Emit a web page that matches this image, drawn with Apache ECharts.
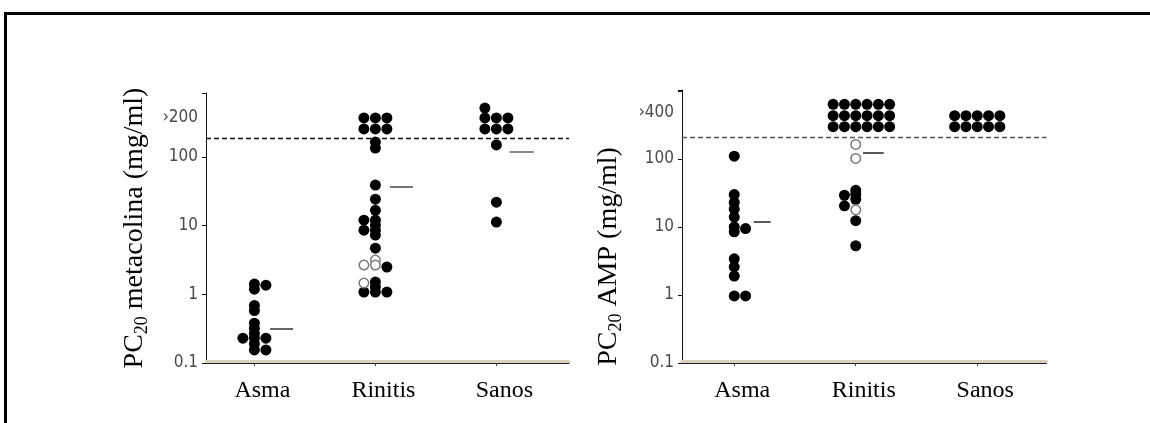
<!DOCTYPE html>
<html>
<head>
<meta charset="utf-8">
<script src="https://cdn.jsdelivr.net/npm/echarts@6/dist/echarts.min.js"></script>
<style>
  html, body { margin: 0; padding: 0; background: #fff; overflow: hidden; }
  #chart { position: absolute; left: 0; top: 0; width: 1150px; height: 423px; }
  #frame { position: absolute; left: 4px; top: 12px; width: 1146px; height: 411px; box-sizing: border-box;
           border-top: 3px solid #000; border-left: 3px solid #000; pointer-events: none; }
</style>
</head>
<body>
<div id="chart"></div>
<div id="frame"></div>
<script>
// ---- data -------------------------------------------------------------
const categories = ['Asma', 'Rinitis', 'Sanos'];

// Each group is a list of dot columns, slots -2 .. +3 around the group centre.
// PC20 metacolina (mg/ml), filled dots
const metaAsma    = [[], [0.23], [1.41, 1.19, 0.69, 0.58, 0.38, 0.32, 0.27, 0.23, 0.19, 0.155], [1.36, 0.23, 0.155], [], []];
const metaRinitis = [[], [370, 256, 12, 8.6, 1.08],
                     [370, 256, 165, 135, 39, 24.3, 16.7, 12.0, 10.2, 8.6, 7.3, 4.7, 1.51, 1.28, 1.08],
                     [370, 256, 2.5, 1.08], [], []];
const metaSanos   = [[], [516, 370, 256], [370, 256, 150, 22, 11.3], [370, 256], [], []];
// PC20 metacolina, open circles
const metaAsmaOpen    = [[], [], [], [], [], []];
const metaRinitisOpen = [[], [2.67, 1.46], [3.16, 2.67], [], [], []];
const metaSanosOpen   = [[], [], [], [], [], []];
const metaMeans = [0.32, 36.5, 118];
const metaCut = 185;

// PC20 AMP (mg/ml), filled dots
const ampAsma    = [[], [], [110, 30, 23, 18.3, 14, 10, 8.5, 3.4, 2.6, 1.9, 0.97], [9.5, 0.97], [], []];
const ampRinitis = [[637, 433, 299], [637, 433, 299, 29.3, 20.5],
                    [637, 433, 299, 34.7, 30.3, 25.6, 12.4, 5.3],
                    [637, 433, 299], [637, 433, 299], [637, 433, 299]];
const ampSanos   = [[433, 299], [433, 299], [433, 299], [433, 299], [433, 299], []];
// PC20 AMP, open circles
const ampAsmaOpen    = [[], [], [], [], [], []];
const ampRinitisOpen = [[], [], [164, 102, 17.9], [], [], []];
const ampSanosOpen   = [[], [], [], [], [], []];
const ampMeans = [11.8, 124, null];
const ampCut = 210;

// y tick labels
const yTickValues = [0.1, 1, 10, 100];
const yTickLabels = ['0.1', '1', '10', '100'];
const metaTopLabel = '›200', metaTopValue = 370;
const ampTopLabel = '›400', ampTopValue = 475;

// ---- layout -----------------------------------------------------------
const SERIF = '"Liberation Serif", "Times New Roman", serif';
const NARROW = '"Liberation Sans Narrow", "DejaVu Sans Condensed", "Arial Narrow", sans-serif';

function dotPoints(groups, slotWidth) {
  const pts = [];
  groups.forEach((cols, gi) => cols.forEach((vals, ci) =>
    vals.forEach(v => pts.push([gi + 1 + (ci - 2) * slotWidth, v]))));
  return pts;
}

function yLabel(v) {
  for (let i = 0; i < yTickValues.length; i++) {
    if (Math.abs(Math.log10(v) - Math.log10(yTickValues[i])) < 1e-6) return yTickLabels[i];
  }
  return '';
}

function titleStyle(extraPadding) {
  return {
    fontFamily: SERIF, fontSize: 28, color: '#000',
    padding: extraPadding,
    rich: {
      a: { fontFamily: SERIF, fontSize: 28, color: '#000', lineHeight: 32 },
      s: { fontFamily: SERIF, fontSize: 18, color: '#000', lineHeight: 20, verticalAlign: 'bottom' }
    }
  };
}

function yAxisFor(gridIndex, max, title, gap, pad) {
  return {
    type: 'log', logBase: 10, gridIndex, min: 0.1, max,
    axisLine: { show: true, lineStyle: { color: '#111', width: 1 } },
    axisTick: { show: true, length: 4, lineStyle: { color: '#111' } },
    axisLabel: { formatter: yLabel, color: '#4a4a4a', fontFamily: NARROW, fontSize: 17, margin: 8 },
    splitLine: { show: false },
    name: title, nameLocation: 'middle', nameRotate: 90, nameGap: gap,
    nameTextStyle: titleStyle(pad)
  };
}

function xAxesFor(gridIndex, min, max) {
  return [{
    type: 'value', gridIndex, min, max, position: 'bottom',
    axisLine: { show: true, onZero: false, lineStyle: { color: '#222', width: 1 } },
    axisTick: { show: true, length: 3, customValues: [1, 2, 3], lineStyle: { color: '#333' } },
    axisLabel: {
      customValues: [1, 2, 3], formatter: v => categories[Math.round(v) - 1] || '',
      fontFamily: SERIF, fontSize: 24, color: '#000', margin: 16, padding: [0, 0, 0, 16]
    },
    splitLine: { show: false }
  }, {
    type: 'value', gridIndex, min, max, position: 'bottom', offset: -2,
    axisLine: { show: true, onZero: false, lineStyle: { color: '#d9d2bb', width: 3 } },
    axisTick: { show: false }, axisLabel: { show: false }, splitLine: { show: false }
  }];
}

function markLinesFor(means, spans, meanColors, cut, cutColor, topLabel, topValue) {
  const data = [];
  means.forEach((m, i) => {
    if (m == null) return;
    data.push([
      { coord: [i + 1 + spans[i][0], m], lineStyle: { color: meanColors[i], width: 1.5, type: 'solid' } },
      { coord: [i + 1 + spans[i][1], m] }
    ]);
  });
  data.push({ yAxis: cut, lineStyle: { color: cutColor, width: 1.3, type: [5, 3] } });
  data.push({
    yAxis: topValue, lineStyle: { color: 'rgba(0,0,0,0)', width: 1, opacity: 1 },
    label: { show: true, position: 'start', formatter: topLabel, distance: 8, opacity: 1,
             color: '#4a4a4a', fontFamily: NARROW, fontSize: 17 }
  });
  return { silent: true, symbol: ['none', 'none'], animation: false, label: { show: false }, data };
}

const filledStyle = { color: '#000', opacity: 1 };
const openStyle = { color: '#fff', borderColor: '#7a7a7a', borderWidth: 1.5, opacity: 1 };

const option = {
  animation: false,
  backgroundColor: '#fff',
  grid: [
    { left: 206, top: 93, width: 363, height: 270 },
    { left: 682, top: 90, width: 364.5, height: 273 }
  ],
  xAxis: [...xAxesFor(0, 0.6, 3.6), ...xAxesFor(1, 0.57, 3.57)],
  yAxis: [
    yAxisFor(0, 855, '{a|PC}{s|20}{a| metacolina (mg/ml)}', 55, [0, 0, 0, 0]),
    yAxisFor(1, 1035, '{a|PC}{s|20}{a| AMP (mg/ml)}', 57, [0, 60, 0, 0])
  ],
  series: [
    {
      type: 'scatter', xAxisIndex: 0, yAxisIndex: 0, symbolSize: 11, itemStyle: filledStyle, z: 3,
      data: dotPoints([metaAsma, metaRinitis, metaSanos], 0.095),
      markLine: markLinesFor(metaMeans, [[0.13, 0.32], [0.12, 0.31], [0.11, 0.31]],
                             ['#333', '#444', '#666'], metaCut, '#111', metaTopLabel, metaTopValue)
    },
    {
      type: 'scatter', xAxisIndex: 0, yAxisIndex: 0, symbolSize: 9.5, itemStyle: openStyle, z: 4,
      data: dotPoints([metaAsmaOpen, metaRinitisOpen, metaSanosOpen], 0.095)
    },
    {
      type: 'scatter', xAxisIndex: 2, yAxisIndex: 1, symbolSize: 11, itemStyle: filledStyle, z: 3,
      data: dotPoints([ampAsma, ampRinitis, ampSanos], 0.093),
      markLine: markLinesFor(ampMeans, [[0.16, 0.30], [0.06, 0.23], [0, 0]],
                             ['#222', '#222', '#222'], ampCut, '#555', ampTopLabel, ampTopValue)
    },
    {
      type: 'scatter', xAxisIndex: 2, yAxisIndex: 1, symbolSize: 9.5, itemStyle: openStyle, z: 4,
      data: dotPoints([ampAsmaOpen, ampRinitisOpen, ampSanosOpen], 0.093)
    }
  ]
};

const chart = echarts.init(document.getElementById('chart'), null, { renderer: 'canvas' });
chart.setOption(option);
</script>
</body>
</html>
